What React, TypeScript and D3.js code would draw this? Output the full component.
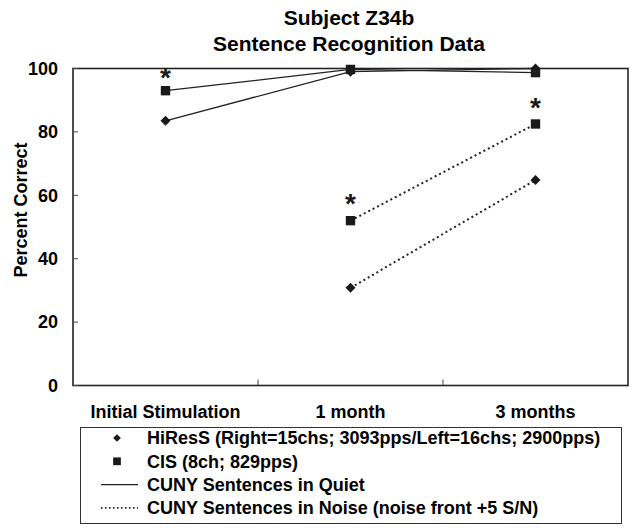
import React, { useRef, useEffect } from 'react';
import * as d3 from 'd3';

const categories = ['Initial Stimulation', '1 month', '3 months'];
const yTicks = [0, 20, 40, 60, 80, 100];

const hiresQuiet = [83.5, 99, 100];
const cisQuiet = [93, 99.7, 98.7];
const cisNoise = [null, 52, 82.5];
const hiresNoise = [null, 30.8, 64.8];

// significance stars: category index + level where the star sits
const starCats = [0, 1, 2];
const starLevels = [98.7, 58.7, 89];

const legendLabels = [
  'HiResS (Right=15chs; 3093pps/Left=16chs; 2900pps)',
  'CIS (8ch; 829pps)',
  'CUNY Sentences in Quiet',
  'CUNY Sentences in Noise (noise front +5 S/N)',
];

const W = 634, H = 528;
const FONT = '"Liberation Sans", Arial, Helvetica, sans-serif';

const App = () => {
  const svgRef = useRef<SVGSVGElement>(null);

  useEffect(() => {
    const svg = d3.select(svgRef.current);
    svg.selectAll('*').remove();
    const left = 73, right = 628, top = 68.5, bottom = 385.5;

    const x = d3.scaleBand().domain(categories).range([left, right]);
    const y = d3.scaleLinear().domain([0, 100]).range([bottom, top]);
    const cx = (i: number) => x(categories[i])! + x.bandwidth() / 2;

    // title
    svg.append('text').attr('x', 349).attr('y', 25).attr('text-anchor', 'middle')
      .attr('font-size', 21).attr('font-weight', 'bold').text('Subject Z34b');
    svg.append('text').attr('x', 349).attr('y', 51).attr('text-anchor', 'middle')
      .attr('font-size', 21).attr('font-weight', 'bold').text('Sentence Recognition Data');

    // frame
    svg.append('rect').attr('x', left).attr('y', top).attr('width', right - left).attr('height', bottom - top)
      .attr('fill', 'none').attr('stroke', '#222').attr('stroke-width', 1.6);

    // y ticks
    const yg = svg.append('g');
    yTicks.forEach(t => {
      yg.append('line').attr('x1', left).attr('x2', left + 5).attr('y1', y(t)).attr('y2', y(t))
        .attr('stroke', '#444').attr('stroke-width', 1);
      yg.append('text').attr('x', 58).attr('y', y(t)).attr('dy', '0.35em').attr('text-anchor', 'end')
        .attr('font-size', 18).attr('font-weight', 'bold').text(t);
    });
    svg.append('text').attr('transform', `translate(27,210) rotate(-90)`)
      .attr('text-anchor', 'middle')
      .attr('font-size', 18).attr('font-weight', 'bold').text('Percent Correct');

    // x ticks (category boundaries)
    categories.slice(1).forEach(c => {
      svg.append('line').attr('x1', x(c)!).attr('x2', x(c)!).attr('y1', bottom).attr('y2', bottom - 6)
        .attr('stroke', '#444').attr('stroke-width', 1);
    });
    categories.forEach((c, i) => {
      svg.append('text').attr('x', cx(i)).attr('y', 418).attr('text-anchor', 'middle')
        .attr('font-size', 18).attr('font-weight', 'bold').text(c);
    });

    // diamond = square symbol rotated 45deg
    const diamond = (s: number) => d3.symbol(d3.symbolSquare, s)();
    const series = [
      { data: hiresQuiet, kind: 'diamond', dash: null },
      { data: cisQuiet, kind: 'square', dash: null },
      { data: cisNoise, kind: 'square', dash: '2,3' },
      { data: hiresNoise, kind: 'diamond', dash: '2,3' },
    ];

    const line = d3.line<number | null>()
      .defined(d => d != null)
      .x((d, i) => cx(i))
      .y(d => y(d as number));

    series.forEach(s => {
      svg.append('path').attr('d', line(s.data)).attr('fill', 'none').attr('stroke', '#222')
        .attr('stroke-width', s.dash ? 2 : 1.3).attr('stroke-dasharray', s.dash);
    });
    series.forEach(s => {
      const isD = s.kind === 'diamond';
      svg.append('g').selectAll('path')
        .data(s.data.map((v, i) => ({ v, i })).filter(d => d.v != null))
        .join('path')
        .attr('transform', d => `translate(${cx(d.i)},${y(d.v as number)})${isD ? ' rotate(45)' : ''}`)
        .attr('d', isD ? diamond(50) : d3.symbol(d3.symbolSquare, 88)())
        .attr('fill', '#1a1a1a');
    });

    // stars
    starCats.forEach((c, k) => {
      svg.append('text').attr('x', cx(c)).attr('y', y(starLevels[k]) + 14).attr('text-anchor', 'middle')
        .attr('font-size', 28).attr('font-weight', 'bold').attr('fill', '#1a1a1a').text('*');
    });

    // legend
    const lg = svg.append('g');
    lg.append('rect').attr('x', 80.5).attr('y', 427.5).attr('width', 541).attr('height', 96)
      .attr('fill', 'none').attr('stroke', '#333').attr('stroke-width', 1);
    legendLabels.forEach((l, i) => {
      const ly = 438 + i * 23.3;
      if (i < 2) {
        lg.append('path').attr('transform', `translate(117,${ly})${i === 0 ? ' rotate(45)' : ''}`)
          .attr('d', i === 0 ? diamond(30) : d3.symbol(d3.symbolSquare, 60)()).attr('fill', '#1a1a1a');
      } else {
        lg.append('line').attr('x1', 101).attr('x2', 138).attr('y1', ly).attr('y2', ly)
          .attr('stroke', '#222').attr('stroke-width', i === 3 ? 1.6 : 1.2)
          .attr('stroke-dasharray', i === 3 ? '1.5,2.5' : null);
      }
      lg.append('text').attr('x', 147).attr('y', ly).attr('dy', '0.35em')
        .attr('font-size', 18).attr('font-weight', 'bold').text(l);
    });
  }, []);

  return (
    <svg ref={svgRef} width={W} height={H} fontFamily={FONT}
      style={{ position: 'absolute', left: 0, top: 0, background: '#fff' }} />
  );
};

export default App;
